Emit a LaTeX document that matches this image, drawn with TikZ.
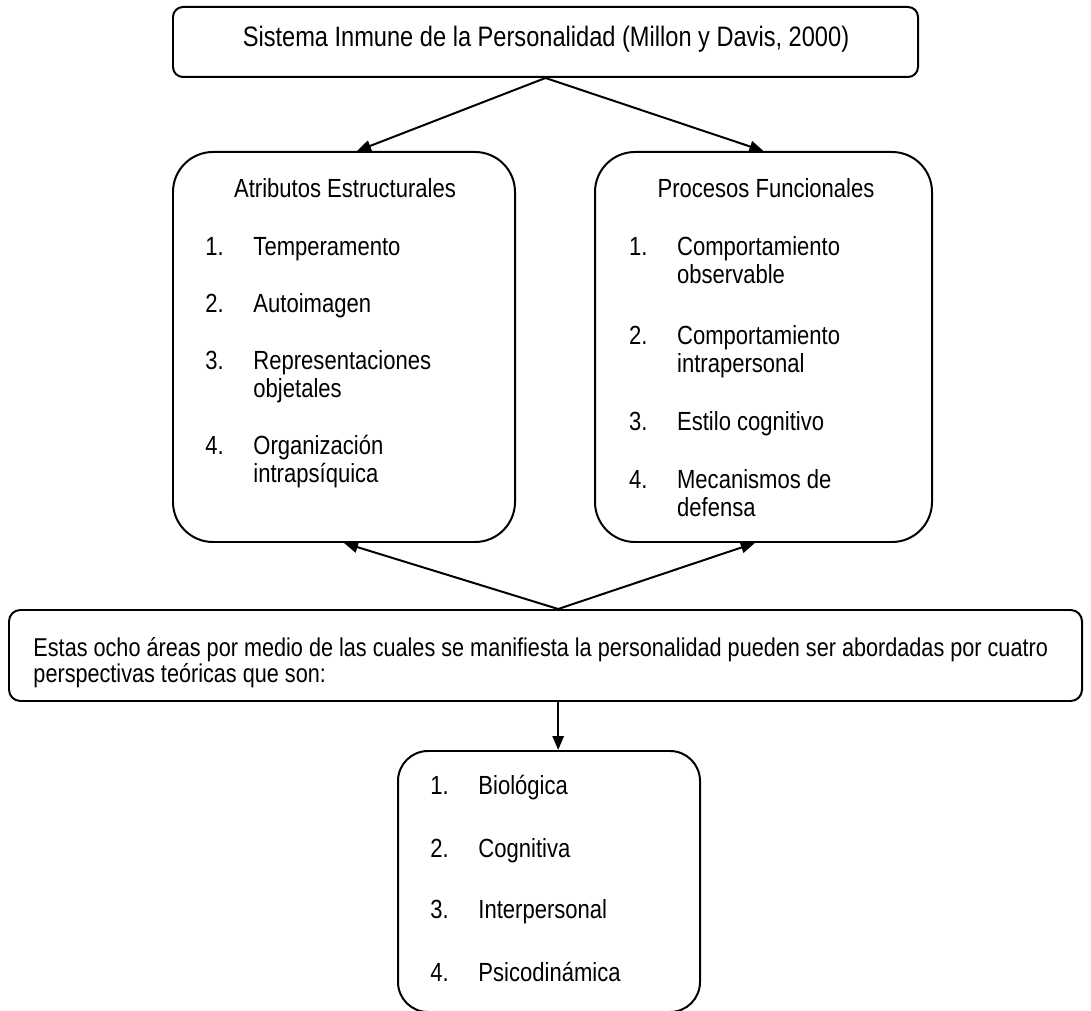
\documentclass[tikz,border=0pt]{standalone}
\usepackage{fontspec}
\setmainfont{Liberation Sans}[FakeStretch=0.84]
\usetikzlibrary{arrows.meta}

\newcommand{\numlist}[2]{\makebox[0.72cm][l]{#1}#2}
\newcommand{\contline}{\hspace*{0.72cm}}

\tikzset{
    box/.style={draw, line width=0.85pt, inner sep=0pt},
    txt/.style={anchor=base west, inner sep=0pt, align=left, font=\fontsize{11.2}{12}\selectfont},
    head/.style={anchor=base, inner sep=0pt, font=\fontsize{11.2}{12}\selectfont},
    >={Triangle[length=2.1mm, width=1.7mm]}
}

\begin{document}
\begin{tikzpicture}
    \useasboundingbox (0,0) rectangle (16.365,15.15);
    \node[box, rounded corners=0.15cm, minimum width=11.175cm, minimum height=1.05cm] (sis) at (8.1825,14.52) {};
    \node[box, rounded corners=0.6cm, minimum width=5.13cm, minimum height=5.85cm] (atr) at (5.16,9.945) {};
    \node[box, rounded corners=0.6cm, minimum width=5.055cm, minimum height=5.85cm] (pro) at (11.4525,9.945) {};
    \node[box, rounded corners=0.17cm, minimum width=16.095cm, minimum height=1.365cm] (ocho) at (8.1825,5.3175) {};
    \node[box, rounded corners=0.45cm, minimum width=4.53cm, minimum height=3.915cm] (per) at (8.235,1.9275) {};

    \node[head, font=\fontsize{12}{12}\selectfont] (sistit) at (8.19,14.445) {Sistema Inmune de la Personalidad (Millon y Davis, 2000)};

    \node[head] (atrtit) at (5.175,12.18) {Atributos Estructurales};
    \node[txt] (atr1) at (3.075,11.31) {\numlist{1.}{Temperamento}};
    \node[txt] (atr2) at (3.075,10.455) {\numlist{2.}{Autoimagen}};
    \node[txt] (atr3) at (3.075,9.18) {\numlist{3.}{Representaciones}\\\contline objetales};
    \node[txt] (atr4) at (3.075,7.905) {\numlist{4.}{Organización}\\\contline intrapsíquica};

    \node[head] (protit) at (11.49,12.18) {Procesos Funcionales};
    \node[txt] (pro1) at (9.43,10.89) {\numlist{1.}{Comportamiento}\\\contline observable};
    \node[txt] (pro2) at (9.43,9.555) {\numlist{2.}{Comportamiento}\\\contline intrapersonal};
    \node[txt] (pro3) at (9.43,8.685) {\numlist{3.}{Estilo cognitivo}};
    \node[txt] (pro4) at (9.43,7.395) {\numlist{4.}{Mecanismos de}\\\contline defensa};

    \node[txt, font=\fontsize{11}{11}\selectfont] (ochotxt) at (0.495,4.92) {Estas ocho áreas por medio de las cuales se manifiesta la personalidad pueden ser abordadas por cuatro\\perspectivas teóricas que son:};

    \node[txt] (per1) at (6.45,3.225) {\numlist{1.}{Biológica}};
    \node[txt] (per2) at (6.45,2.295) {\numlist{2.}{Cognitiva}};
    \node[txt] (per3) at (6.45,1.365) {\numlist{3.}{Interpersonal}};
    \node[txt] (per4) at (6.45,0.435) {\numlist{4.}{Psicodinámica}};

    \draw[line width=0.85pt, ->] (sis.south) -- ([xshift=0.195cm]atr.north);
    \draw[line width=0.85pt, ->] (sis.south) -- (pro.north);
    \draw[line width=0.85pt, ->] ([xshift=0.19cm]ocho.north) -- (atr.south);
    \draw[line width=0.85pt, ->] ([xshift=0.19cm]ocho.north) -- ([xshift=-0.13cm]pro.south);
    \draw[line width=0.85pt, ->] ([xshift=0.19cm]ocho.south) -- ([xshift=0.19cm]ocho.south |- per.north);
\end{tikzpicture}
\end{document}
